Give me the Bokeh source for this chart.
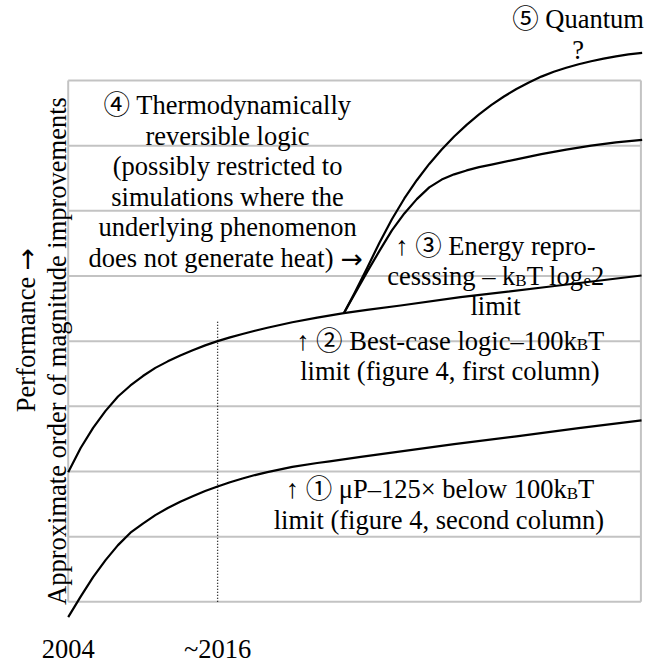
import math
from bokeh.plotting import figure
from bokeh.models import Range1d
from bokeh.core.properties import value
from bokeh.embed import file_html
from bokeh.resources import INLINE

# ---------------- data ----------------
grid_levels = [0, 1, 2, 3, 4, 5, 6, 7, 8]
box_years = [2004, 2050]
marker_year = 2016
marker_top = 4.32
tick_years = [2004, 2016]
tick_labels = ["2004", "~2016"]

# (1) microprocessor curve
mu_years = [2004, 2005, 2006, 2007, 2008, 2009, 2010, 2011, 2012, 2013, 2014, 2015, 2016,
            2017, 2018, 2019, 2020, 2022, 2024, 2025, 2027.5, 2030, 2035, 2040, 2045, 2050.05]
mu_perf = [-0.236, 0.08, 0.38, 0.64, 0.87, 1.06, 1.20, 1.33, 1.44, 1.535, 1.62, 1.70, 1.77,
           1.835, 1.893, 1.945, 1.99, 2.07, 2.13, 2.155, 2.225, 2.29, 2.42, 2.54, 2.665, 2.783]

# (2) best-case logic curve
best_years = [2004, 2005, 2006, 2007, 2008, 2009, 2010, 2011, 2012, 2013, 2014, 2015, 2016,
              2017, 2018, 2019, 2020, 2022, 2024, 2026.14, 2028, 2030.7, 2035.51, 2042.74, 2050.05]
best_perf = [1.99, 2.36, 2.67, 2.93, 3.15, 3.32, 3.465, 3.59, 3.69, 3.78, 3.86, 3.935, 4.0,
             4.058, 4.11, 4.16, 4.205, 4.29, 4.36, 4.429, 4.48, 4.547, 4.675, 4.839, 5.008]

# (3) energy reprocessing curve
energy_years = [2026.14, 2027, 2028, 2029, 2030, 2031, 2032, 2033, 2034, 2035, 2036, 2037,
                2038, 2040, 2042, 2044, 2046, 2048, 2050.1]
energy_perf = [4.429, 4.72, 5.06, 5.385, 5.70, 5.96, 6.18, 6.36, 6.48, 6.56, 6.62, 6.67,
               6.71, 6.79, 6.87, 6.94, 7.0, 7.05, 7.09]

# (4) reversible logic curve
rev_years = [2026.14, 2027, 2028, 2029, 2030, 2031, 2032, 2033, 2034, 2035, 2036, 2037,
             2038, 2039, 2040, 2041, 2042, 2043, 2044, 2045, 2046, 2047, 2048, 2049, 2050.1]
rev_perf = [4.429, 4.74, 5.12, 5.51, 5.87, 6.19, 6.47, 6.72, 6.94, 7.14, 7.32, 7.48,
            7.625, 7.755, 7.87, 7.97, 8.06, 8.135, 8.195, 8.25, 8.295, 8.335, 8.37, 8.40, 8.425]

quantum_lines = ["⑤ Quantum", "?"]
thermo_lines = ["④ Thermodynamically", "reversible logic", "(possibly restricted to",
                "simulations where the", "underlying phenomenon", "does not generate heat)"]
arrow_right = "→"
energy_lines = ["↑ ③ Energy repro-",
                [("cesssing – k", 0), ("B", 1), ("T log", 0), ("e", 1), ("2", 0)],
                "limit"]
best_lines = [[("↑ ② Best-case logic–100k", 0), ("B", 1), ("T", 0)],
              "limit (figure 4, first column)"]
mu_lines = [[("↑ ① μP–125× below 100k", 0), ("B", 1), ("T", 0)],
            "limit (figure 4, second column)"]
ylabel_lines = ["Performance", "Approximate order of magnitude improvements"]

# ---------------- figure ----------------
p = figure(width=657, height=663,
           x_range=Range1d(1998.562, 2051.333), y_range=Range1d(-0.9469, 9.228),
           x_axis_type=None, y_axis_type=None,
           toolbar_location=None, output_backend="svg",
           min_border=0, outline_line_color=None)
p.background_fill_color = "white"
p.border_fill_color = "white"

GRID = "#c3c3c3"
p.segment(x0=[box_years[0]] * len(grid_levels), y0=grid_levels,
          x1=[box_years[1]] * len(grid_levels), y1=grid_levels,
          line_color=GRID, line_width=2)
p.segment(x0=box_years, y0=[grid_levels[0]] * 2, x1=box_years, y1=[grid_levels[-1]] * 2,
          line_color=GRID, line_width=2)

p.segment(x0=[marker_year], y0=[0], x1=[marker_year], y1=[marker_top],
          line_color="black", line_width=1.3, line_dash="1 2")

for xs, ys in [(mu_years, mu_perf), (best_years, best_perf),
               (energy_years, energy_perf), (rev_years, rev_perf)]:
    p.line(xs, ys, line_color="black", line_width=2.2, line_join="round")

FONT = value("Liberation Serif, Noto Sans CJK JP")
ARROW_FONT = value("DejaVu Sans")
MAIN = 26.5
SUB = 17.0
SHIFT = 9.5   # baseline correction (px)
EM = {"B": 0.667, "T": 0.611, " ": 0.25, "l": 0.278, "o": 0.5, "g": 0.5, "e": 0.444, "2": 0.5}


def width(s, size):
    return sum(EM.get(c, 0.5) for c in s) * size


def txt(x, y, s, align="center", size=MAIN, xo=0, yo=0, angle=0, font=FONT):
    if angle:
        xo -= SHIFT
    else:
        yo -= SHIFT
    p.text(x=[x], y=[y], text=[s], text_font=font, text_font_size=f"{size}px",
           text_align=align, text_baseline="alphabetic", text_color="black",
           x_offset=xo, y_offset=yo, angle=angle)


def txt_pieces(xr, y, pieces):
    off = 0.0
    rev = list(reversed(pieces))
    for i, (s, sub) in enumerate(rev):
        size = SUB if sub else MAIN
        yo = 4 if sub else 0
        if i == len(rev) - 1:
            txt(xr, y, s, align="right", size=size, xo=-off, yo=yo)
        else:
            off += width(s, size)
            txt(xr, y, s, align="left", size=size, xo=-off, yo=yo)


def block(lines, xc, xr, ys):
    for line, y in zip(lines, ys):
        if isinstance(line, str):
            txt(xc, y, line)
        else:
            txt_pieces(xr, y, line)


block(quantum_lines, 2044.95, None, [8.794, 8.322])
block(thermo_lines[:-1], 2016.80, None, [7.471, 7.003, 6.535, 6.067, 5.599])
txt(2025.31, 5.130, thermo_lines[-1], align="right")
txt(2025.87, 5.130, arrow_right, align="left", font=ARROW_FONT)
block(energy_lines, 2038.32, 2047.05, [5.315, 4.854, 4.394])
block(best_lines, 2034.66, 2047.05, [3.857, 3.389])
block(mu_lines, 2033.78, 2046.25, [1.585, 1.117])

for yr, lab in zip(tick_years, tick_labels):
    txt(yr, -0.875, lab)

# rotated y labels
txt(2001.374, 2.91, ylabel_lines[0], align="left", angle=math.pi / 2)
txt(2001.374, 5.084, arrow_right, align="left", angle=math.pi / 2, font=ARROW_FONT)
txt(2003.863, 3.849, ylabel_lines[1], angle=math.pi / 2)

open("out.html", "w").write(file_html(p, INLINE))
